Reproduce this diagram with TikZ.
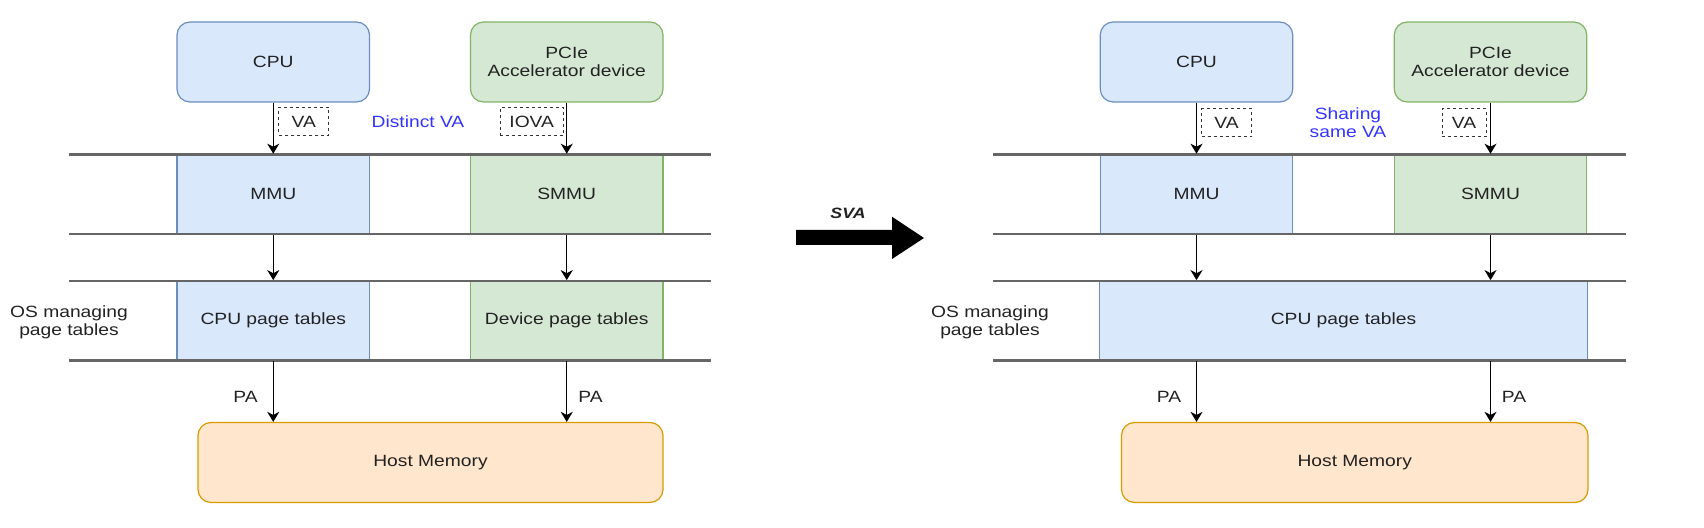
\documentclass[tikz,border=0pt]{standalone}
\usepackage{fontspec}
\setmainfont{Liberation Sans}[FakeStretch=1.18]
\usetikzlibrary{arrows.meta}
\definecolor{bfill}{HTML}{DAE8FC}
\definecolor{bdraw}{HTML}{6C8EBF}
\definecolor{gfill}{HTML}{D5E8D4}
\definecolor{gdraw}{HTML}{82B366}
\definecolor{ofill}{HTML}{FFE6CC}
\definecolor{odraw}{HTML}{D79B00}
\definecolor{lbl}{HTML}{3333FF}
\definecolor{txt}{HTML}{222222}
\definecolor{sep}{HTML}{666666}
\begin{document}
\begin{tikzpicture}[x=0.5pt,y=-0.5pt,
 every node/.style={font=\fontsize{8.15pt}{9pt}\selectfont, text=txt, align=center},
 box/.style={minimum width=96.25pt, minimum height=40pt, inner sep=0pt, line width=0.6pt},
 bluebox/.style={box, fill=bfill, draw=bdraw},
 greenbox/.style={box, fill=gfill, draw=gdraw},
 rbox/.style={rounded corners=6.5pt},
 membox/.style={box, fill=ofill, draw=odraw, rounded corners=6.5pt, minimum width=232.5pt},
 sepline/.style={draw=sep, line width=1.2pt},
 arr/.style={draw=black, line width=0.6pt, -{Stealth[length=5pt,width=6pt,inset=1.5pt]}},
 tag/.style={draw=black!80, dash pattern=on 1.5pt off 1.5pt, line width=0.5pt, minimum height=14pt, inner sep=0pt},
 note/.style={text=lbl},
]
\useasboundingbox (0,0) rectangle (1704,528);
% ---------- left diagram ----------
\node[bluebox, rbox] (cpu1) at (273.25,62) {CPU};
\node[greenbox, rbox] (dev1) at (566.75,62) {PCIe\\Accelerator device};
\node[bluebox] (mmu1) at (273.25,194.3) {MMU};
\node[greenbox] (smmu1) at (566.75,194.3) {SMMU};
\node[bluebox] (pt1) at (273.25,320.75) {CPU page tables};
\node[greenbox] (dpt1) at (566.75,320.75) {Device page tables};
\node[membox] (hm1) at (430.5,462.5) {Host Memory};
\node[tag, minimum width=25pt] (va1) at (303.75,121.5) {VA};
\node[tag, minimum width=31.7pt] (iova1) at (531.7,121.5) {IOVA};
\node[note] (dva) at (418,121.7) {Distinct VA};
\node (os1) at (69,322) {OS managing\\page tables};
\node (pa1) at (245.5,397) {PA};
\node (pa2) at (590.6,397) {PA};
\coordinate (l1a) at (69,154.5); \coordinate (l1b) at (711,154.5);
\coordinate (l2a) at (69,234); \coordinate (l2b) at (711,234);
\coordinate (l3a) at (69,281); \coordinate (l3b) at (711,281);
\coordinate (l4a) at (69,360.5); \coordinate (l4b) at (711,360.5);
\foreach \n in {1,2,3,4} \draw[sepline] (l\n a) -- (l\n b);
\draw[arr] (cpu1.south) -- (mmu1.north);
\draw[arr] (dev1.south) -- (smmu1.north);
\draw[arr] (mmu1.south) -- (pt1.north);
\draw[arr] (smmu1.south) -- (dpt1.north);
\draw[arr] (pt1.south) -- (pt1.south |- hm1.north);
\draw[arr] (dpt1.south) -- (dpt1.south |- hm1.north);
% ---------- SVA arrow ----------
\fill[black] (796,230) -- (892,230) -- (892,216.7) -- (924,238) -- (892,259) -- (892,245) -- (796,245) -- cycle;
\node[font=\fontsize{7.5pt}{9pt}\selectfont\bfseries\itshape] (sva) at (848,213) {SVA};
% ---------- right diagram ----------
\node[bluebox, rbox] (cpu2) at (1196.5,62) {CPU};
\node[greenbox, rbox] (dev2) at (1490.5,62) {PCIe\\Accelerator device};
\node[bluebox] (mmu2) at (1196.5,194.3) {MMU};
\node[greenbox] (smmu2) at (1490.5,194.3) {SMMU};
\node[bluebox, minimum width=243.75pt] (pt2) at (1343.5,320.75) {CPU page tables};
\node[membox, minimum width=233.25pt] (hm2) at (1354.75,462.5) {Host Memory};
\node[tag, minimum width=25pt] (va2) at (1226.5,123) {VA};
\node[tag, minimum width=22pt] (va3) at (1464,123) {VA};
\node[note] (sva2) at (1348,123) {Sharing\\same VA};
\node (os2) at (990,322) {OS managing\\page tables};
\node (pa3) at (1169,397) {PA};
\node (pa4) at (1514,397) {PA};
\coordinate (r1a) at (993,154.5); \coordinate (r1b) at (1626,154.5);
\coordinate (r2a) at (993,234); \coordinate (r2b) at (1626,234);
\coordinate (r3a) at (993,281); \coordinate (r3b) at (1626,281);
\coordinate (r4a) at (993,360.5); \coordinate (r4b) at (1626,360.5);
\foreach \n in {1,2,3,4} \draw[sepline] (r\n a) -- (r\n b);
\draw[arr] (cpu2.south) -- (mmu2.north);
\draw[arr] (dev2.south) -- (smmu2.north);
\draw[arr] (mmu2.south) -- (mmu2.south |- pt2.north);
\draw[arr] (smmu2.south) -- (smmu2.south |- pt2.north);
\draw[arr] (mmu2.south |- pt2.south) -- (mmu2.south |- hm2.north);
\draw[arr] (smmu2.south |- pt2.south) -- (smmu2.south |- hm2.north);
\end{tikzpicture}
\end{document}
